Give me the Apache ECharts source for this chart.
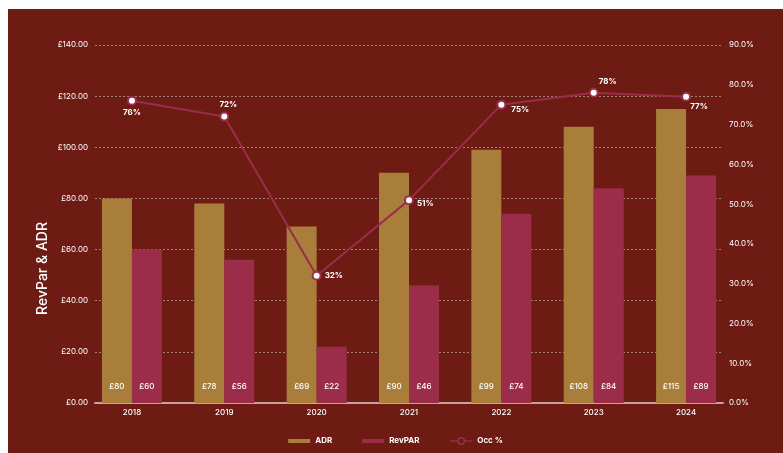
<!DOCTYPE html>
<html>
<head>
<meta charset="utf-8">
<script src="https://cdn.jsdelivr.net/npm/echarts@6/dist/echarts.min.js"></script>
<style>
  html, body { margin: 0; padding: 0; background: #ffffff; width: 783px; height: 453px; overflow: hidden; }
  #chart { position: absolute; left: 8px; top: 9px; width: 775px; height: 444px; }
</style>
</head>
<body>
<div id="chart"></div>
<script>
const years = ['2018', '2019', '2020', '2021', '2022', '2023', '2024'];
const adr = [80, 78, 69, 90, 99, 108, 115];
const revpar = [60, 56, 22, 46, 74, 84, 89];
const occ = [76, 72, 32, 51, 75, 78, 77];
const leftTicks = [0, 140, 20];   // min, max, step (£)
const rightTicks = [0, 90, 10];   // min, max, step (%)

const BG = '#6e1b13';
const GOLD = '#a87e3a';
const CRIMSON = '#9b2d4a';
const FONT = 'Inter, "Noto Sans", sans-serif';
const BAR_ICON = 'path://M0,0H22V4H0Z';

// label placement per point of the occupancy line
const occLabelStyle = [
  { position: 'bottom', distance: 3, offset: [0, 0] },
  { position: 'top', distance: 3, offset: [4, 0] },
  { position: 'right', distance: 3, offset: [0, 0] },
  { position: 'right', distance: 3, offset: [0, 3] },
  { position: 'right', distance: 3, offset: [2, 5] },
  { position: 'top', distance: 2, offset: [14, 0] },
  { position: 'bottom', distance: 1, offset: [13, 0] }
];

const chart = echarts.init(document.getElementById('chart'));
chart.setOption({
  backgroundColor: BG,
  textStyle: { fontFamily: FONT },
  animation: false,
  grid: { left: 87, right: 60, top: 36, bottom: 50, containLabel: false },
  graphic: [{
    type: 'text',
    left: 28,
    top: 213,
    rotation: Math.PI / 2,
    style: { text: 'RevPar & ADR', fill: '#ffffff', font: '500 14px ' + FONT }
  }],
  legend: {
    bottom: 3,
    left: 'center',
    itemWidth: 22,
    itemHeight: 8,
    itemGap: 30,
    textStyle: { color: '#ffffff', fontSize: 8, fontWeight: 'bold', fontFamily: FONT },
    data: [
      { name: 'ADR', icon: BAR_ICON },
      { name: 'RevPAR', icon: BAR_ICON },
      { name: 'Occ %', itemStyle: { color: BG, borderColor: CRIMSON, borderWidth: 1.5 }, lineStyle: { color: CRIMSON, width: 1.5 } }
    ]
  },
  xAxis: {
    type: 'value',
    min: -0.4,
    max: years.length - 1 + 0.4,
    minInterval: 1,
    maxInterval: 1,
    axisLine: { show: true, lineStyle: { color: '#c9a29e', width: 2 } },
    axisTick: { show: false },
    splitLine: { show: false },
    axisLabel: {
      color: '#ffffff', fontSize: 8, fontWeight: 500, margin: 6,
      showMinLabel: true, showMaxLabel: true,
      formatter: v => (Math.abs(v - Math.round(v)) < 1e-6 && years[Math.round(v)]) ? years[Math.round(v)] : ''
    }
  },
  yAxis: [{
    type: 'value',
    min: leftTicks[0], max: leftTicks[1], interval: leftTicks[2],
    axisLine: { show: false },
    axisTick: { show: false },
    splitLine: { show: true, lineStyle: { color: '#a08078', type: [2, 2], width: 1 } },
    axisLabel: { color: '#ffffff', fontSize: 8, margin: 7, formatter: v => '£' + v.toFixed(2) }
  }, {
    type: 'value',
    min: rightTicks[0], max: rightTicks[1], interval: rightTicks[2],
    axisLine: { show: false },
    axisTick: { show: false },
    splitLine: { show: false },
    axisLabel: { color: '#ffffff', fontSize: 8, margin: 6, formatter: v => v.toFixed(1) + '%' }
  }],
  series: [{
    name: 'ADR',
    type: 'bar',
    barWidth: 30,
    barGap: '0%',
    itemStyle: { color: GOLD },
    label: { show: true, position: 'insideBottom', distance: 12, color: '#ffffff', fontSize: 8, fontWeight: 500, formatter: p => '£' + p.value[1] },
    data: adr.map((v, i) => [i, v])
  }, {
    name: 'RevPAR',
    type: 'bar',
    barWidth: 30,
    barGap: '0%',
    itemStyle: { color: CRIMSON },
    label: { show: true, position: 'insideBottom', distance: 12, color: '#ffffff', fontSize: 8, fontWeight: 500, formatter: p => '£' + p.value[1] },
    data: revpar.map((v, i) => [i, v])
  }, {
    name: 'Occ %',
    type: 'line',
    yAxisIndex: 1,
    z: 5,
    symbol: 'circle',
    symbolSize: 8,
    lineStyle: { color: CRIMSON, width: 2 },
    itemStyle: { color: '#ffffff', borderColor: CRIMSON, borderWidth: 2 },
    label: { show: true, color: '#ffffff', fontSize: 8, fontWeight: 'bold', formatter: p => p.value[1] + '%' },
    data: occ.map((v, i) => ({ value: [i, v], label: occLabelStyle[i] }))
  }]
});
</script>
</body>
</html>
